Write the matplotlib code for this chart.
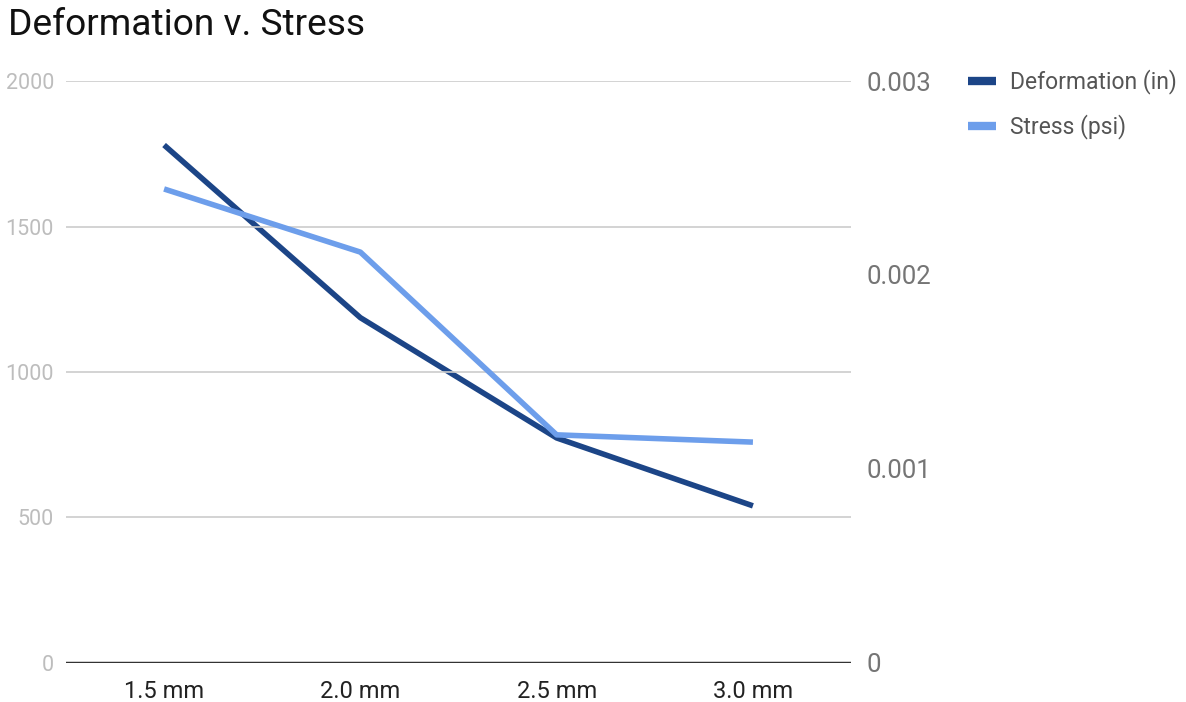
import matplotlib
matplotlib.use('Agg')
import matplotlib.pyplot as plt
from matplotlib.lines import Line2D

plt.rcParams['font.family'] = ['Roboto', 'DejaVu Sans']

# data
thickness = ['1.5 mm', '2.0 mm', '2.5 mm', '3.0 mm']
deformation_in = [0.00267, 0.00178, 0.00116, 0.00081]
stress_psi = [1629, 1412, 784, 759]

dark_blue = '#1c4587'
light_blue = '#6d9eeb'

fig = plt.figure(figsize=(11.86, 7.02), dpi=100)
ax = fig.add_axes([0.0556, 0.0556, 0.662, 0.829])
ax2 = ax.twinx()

x = list(range(len(thickness)))
ax2.plot(x, deformation_in, color=dark_blue, lw=4, solid_capstyle='butt', zorder=2)
ax.plot(x, stress_psi, color=light_blue, lw=4, solid_capstyle='butt', zorder=3)
# stress drawn on top of deformation
ax.set_zorder(ax2.get_zorder() + 1)
ax.patch.set_visible(False)

ax.set_xlim(-0.5, 3.5)
ax.set_ylim(0, 2000)
ax2.set_ylim(0, 0.003)
ax.set_yticks([0, 500, 1000, 1500, 2000])
ax.set_yticklabels(['0', '500', '1000', '1500', '2000'])
ax2.set_yticks([0, 0.001, 0.002, 0.003])
ax2.set_yticklabels(['0', '0.001', '0.002', '0.003'])
ax.set_xticks(x)
ax.set_xticklabels(thickness)

ax.grid(axis='y', color='#cccccc', lw=1.2)
ax.set_axisbelow(True)
for a in (ax, ax2):
    for s in ('top', 'left', 'right', 'bottom'):
        a.spines[s].set_visible(False)
ax.axhline(0, color='#333333', lw=2.5, zorder=5)

ax.tick_params(axis='y', length=0, pad=8.6, labelsize=15.5, labelcolor='#bdbdbd')
ax.tick_params(axis='x', length=0, pad=12, labelsize=17, labelcolor='#222222')
ax2.tick_params(axis='y', length=0, pad=10.8, labelsize=18.5, labelcolor='#757575')

fig.text(0.007, 0.965, 'Deformation v. Stress', fontsize=26.7, color='#111111',
         va='center', ha='left')

handles = [Line2D([], [], color=dark_blue, lw=6, solid_capstyle='butt'),
           Line2D([], [], color=light_blue, lw=6, solid_capstyle='butt')]
leg = fig.legend(handles, ['Deformation (in)', 'Stress (psi)'],
                 loc='upper left', bbox_to_anchor=(0.803, 0.924), frameon=False,
                 fontsize=16.5, handlelength=1.2, handletextpad=0.6, labelspacing=0.87,
                 borderpad=0.2)
for t in leg.get_texts():
    t.set_color('#555555')

fig.savefig('out.png', dpi=100)
